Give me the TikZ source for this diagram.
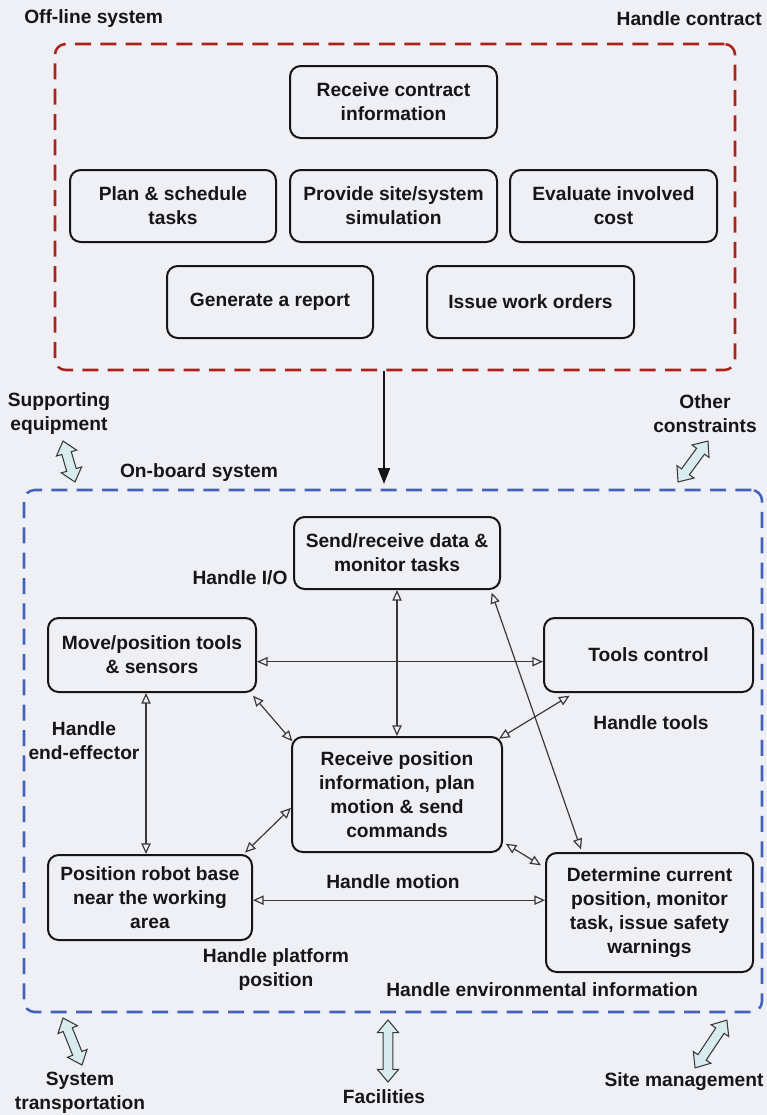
\documentclass[tikz,border=0pt]{standalone}
\usepackage{fontspec}
\setmainfont{Liberation Sans}
\usetikzlibrary{arrows.meta,shapes.arrows}
\definecolor{paper}{RGB}{238,240,246}
\definecolor{offred}{RGB}{172,34,26}
\definecolor{onblue}{RGB}{68,98,184}
\definecolor{arrowfill}{RGB}{216,236,240}
\definecolor{ink}{RGB}{22,22,22}
\begin{document}
\begin{tikzpicture}[x=0.75pt,y=-0.75pt,
  every node/.style={font=\fontsize{14.4}{18}\selectfont\bfseries, text=ink},
  task/.style={draw=ink, line width=1.5pt, rounded corners=8pt, align=center, inner sep=0pt},
  region/.style={line width=1.9pt, rounded corners=8pt, inner sep=0pt, dash pattern=on 12pt off 7pt},
  caption/.style={align=center, inner sep=0pt},
  link/.style={draw=ink!85, line width=0.9pt,
    {Triangle[open,length=8pt,width=7pt]}-{Triangle[open,length=8pt,width=7pt]}},
  flow/.style={double arrow, draw=ink!85, fill=arrowfill, line width=0.8pt,
    inner xsep=0pt, inner ysep=3.3pt, double arrow head extend=4.2pt,
    double arrow tip angle=80}
]
% page and background
\useasboundingbox (0,0) rectangle (767,1115);
\fill[paper] (0,0) rectangle (767,1115);

% ---------- off-line system ----------
\node[region, draw=offred, minimum width=510pt, minimum height=244.5pt] (offline) at (395,207) {};
\node[caption, anchor=west] (offtitle) at (24,19) {Off-line system};
\node[caption, anchor=east] (contract) at (762,19) {Handle contract};

\node[task, minimum width=155.25pt, minimum height=54pt] (rci) at (393.5,102) {Receive contract\\information};
\node[task, minimum width=154.5pt, minimum height=54pt] (plan) at (173,206) {Plan \& schedule\\tasks};
\node[task, minimum width=155.25pt, minimum height=54pt] (prov) at (393.5,206) {Provide site/system\\simulation};
\node[task, minimum width=155.25pt, minimum height=54pt] (eval) at (613.5,206) {Evaluate involved\\cost};
\node[task, minimum width=154.5pt, minimum height=54pt] (gen) at (270,302) {Generate a report};
\node[task, minimum width=155.25pt, minimum height=54pt] (issue) at (530.5,302) {Issue work orders};

% ---------- on-board system ----------
\node[region, draw=onblue, minimum width=553.5pt, minimum height=391.5pt] (onboard) at (393,751) {};
\node[caption] (ontitle) at (199,473) {On-board system};

\coordinate (drop) at (384,0);
\coordinate (droptip) at (384,484);
\draw[line width=1.5pt, draw=ink, -{Triangle[length=12pt,width=9pt]}] (offline.south -| drop) -- (droptip);

\node[task, minimum width=154.5pt, minimum height=54pt] (send) at (397,553) {Send/receive data \&\\monitor tasks};
\node[task, minimum width=156pt, minimum height=55.5pt] (move) at (152,655) {Move/position tools\\\& sensors};
\node[task, minimum width=156.75pt, minimum height=55.5pt] (tools) at (648.5,655) {Tools control};
\node[task, minimum width=157.5pt, minimum height=86.25pt] (recv) at (397,794.5) {Receive position\\information, plan\\motion \& send\\commands};
\node[task, minimum width=153pt, minimum height=63.75pt] (pos) at (150,897.5) {Position robot base\\near the working\\area};
\node[task, minimum width=155.25pt, minimum height=89.25pt] (det) at (649.5,912.5) {Determine current\\position, monitor\\task, issue safety\\warnings};

% interface labels
\node[caption] (hio) at (240,578) {Handle I/O};
\node[caption] (hend) at (84,741) {Handle\\end-effector};
\node[caption] (htools) at (651,723) {Handle tools};
\node[caption] (hmotion) at (393,882) {Handle motion};
\node[caption] (hplat) at (276,970) {Handle platform\\position};
\node[caption] (henv) at (542,990) {Handle environmental information};

% connectors between functions
\draw[link] (send.south) -- (send.south |- recv.north);
\draw[link] ([yshift=-5pt]move.east) -- ([yshift=-5pt]move.east -| tools.west);
\draw[link] ([xshift=-3pt,yshift=-2pt]move.south east) -- ([xshift=1pt,yshift=-4pt]recv.north west);
\draw[link] ([xshift=20pt,yshift=-2pt]tools.south west) -- ([xshift=-3pt,yshift=-2pt]recv.north east);
\draw[link] ([xshift=-7pt,yshift=-2pt]send.south east) -- ([xshift=27pt,yshift=2pt]det.north west);
\draw[link] ([xshift=-4.5pt]move.south) -- ([xshift=-4.5pt]move.south |- pos.north);
\draw[link] ([xshift=-6pt,yshift=1pt]pos.north east) -- ([yshift=-10pt]recv.west);
\draw[link] ([yshift=-2pt]pos.east) -- ([yshift=-2pt]pos.east -| det.west);
\draw[link] ([xshift=2pt,yshift=7pt]recv.south east) -- ([xshift=-3pt,yshift=-10pt]det.north west);

% outside influences
\node[caption] (support) at (59,414) {Supporting\\equipment};
\node[caption] (other) at (705,414) {Other\\constraints};
\node[caption] (transport) at (80,1093) {System\\transportation};
\node[caption] (facil) at (384,1097) {Facilities};
\node[caption] (sitem) at (684,1082) {Site management};

\node[flow, minimum height=32pt, rotate=-73.7] (supparrow) at (69,461.5) {};
\node[flow, minimum height=38pt, rotate=53.8] (otherarrow) at (693,461.5) {};
\node[flow, minimum height=38pt, rotate=-68] (transarrow) at (72.5,1041.5) {};
\node[flow, minimum height=46.5pt, rotate=90] (facilarrow) at (388,1051) {};
\node[flow, minimum height=43pt, rotate=56.3] (sitearrow) at (711,1044) {};
\end{tikzpicture}
\end{document}
